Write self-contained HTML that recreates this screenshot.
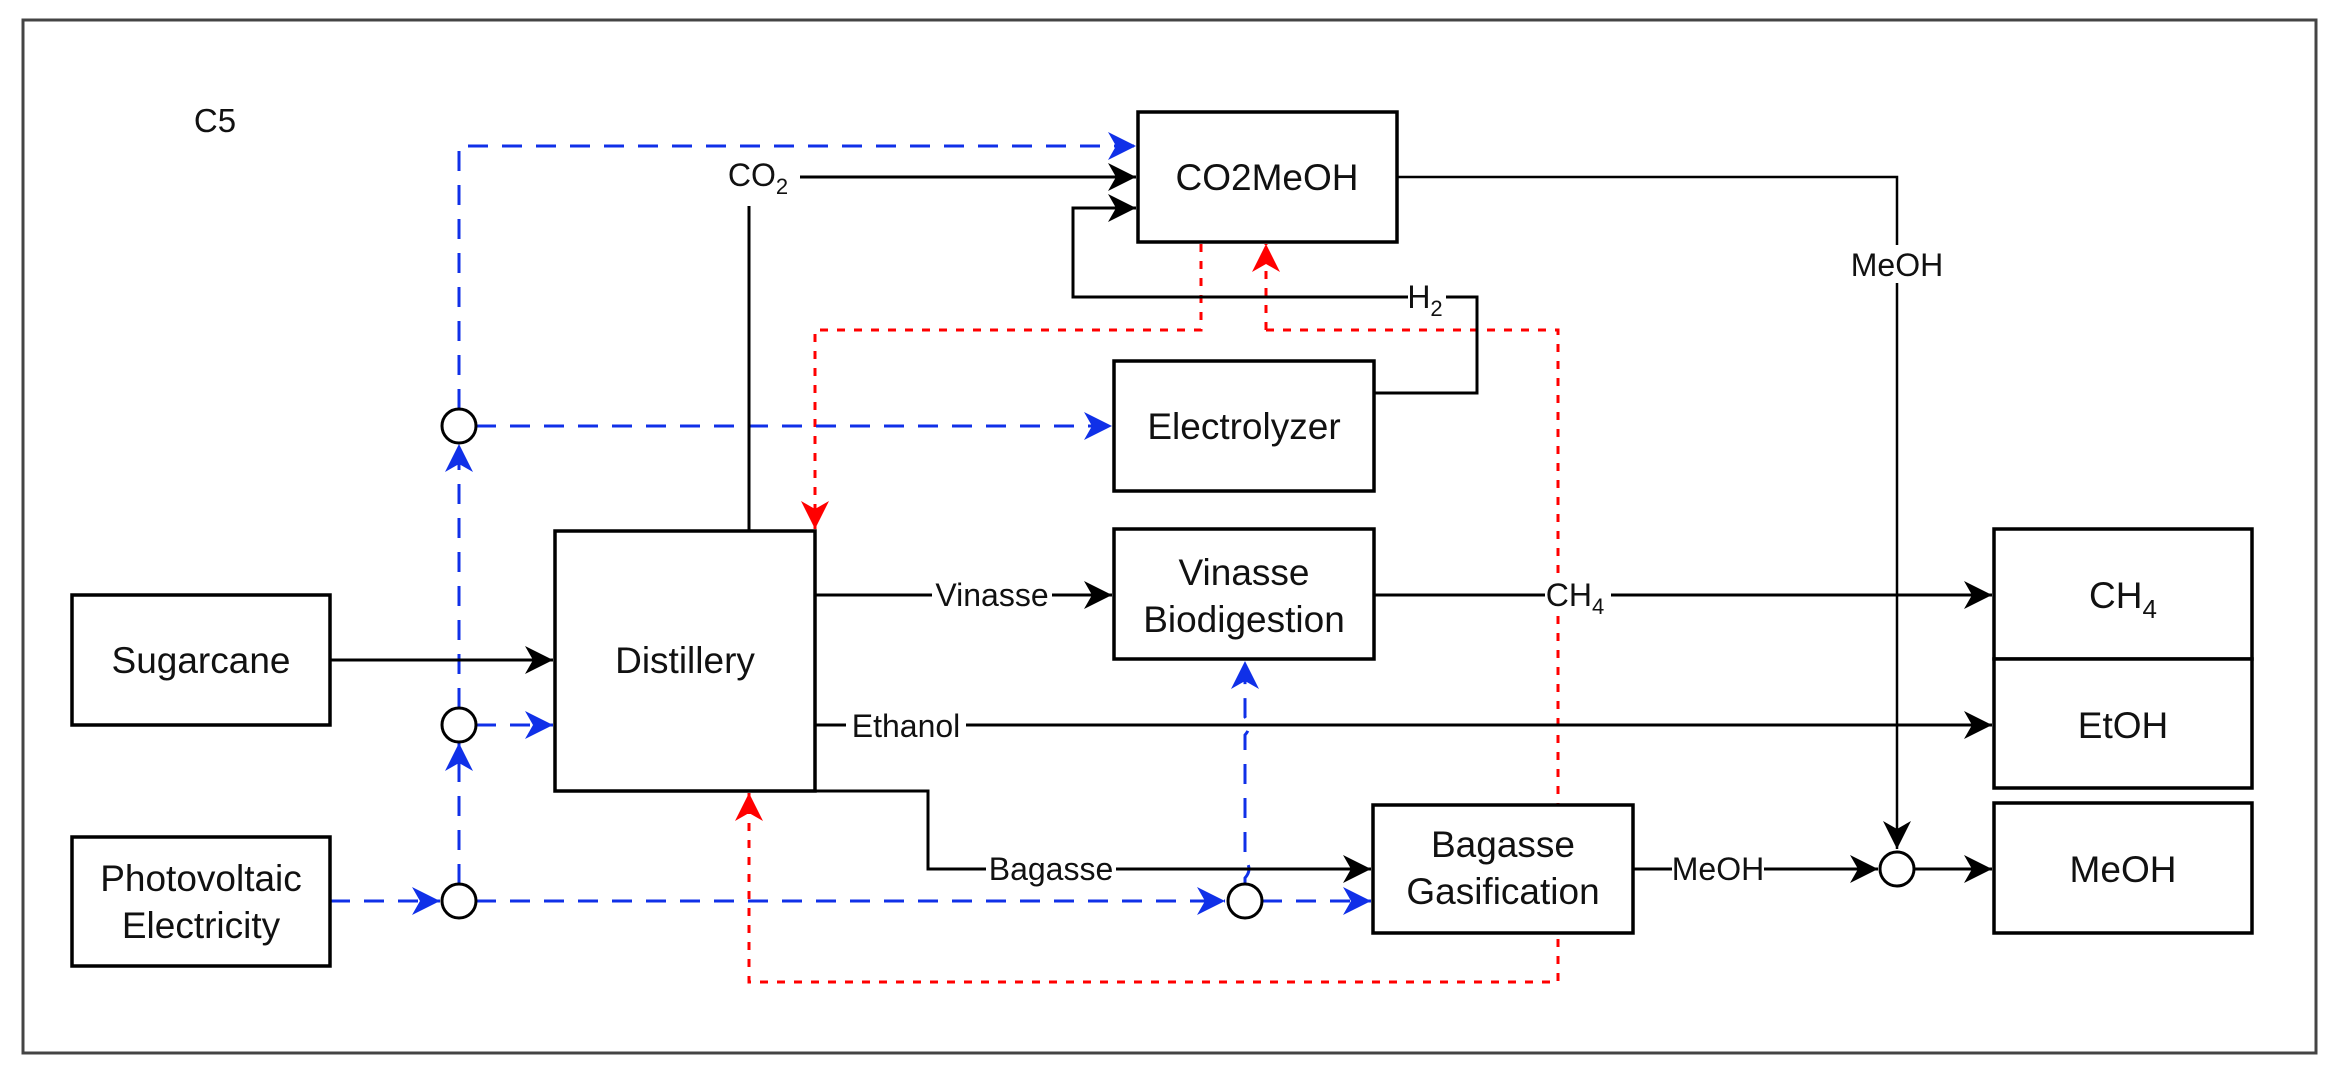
<!DOCTYPE html>
<html><head><meta charset="utf-8"><style>
html,body{margin:0;padding:0;background:#fff;}
svg{display:block;}
text{font-family:"Liberation Sans",Arial,sans-serif;fill:#111;}
</style></head><body>
<svg width="2338" height="1078" viewBox="0 0 2338 1078" xmlns="http://www.w3.org/2000/svg">
<defs>
<marker id="ak" markerWidth="34" markerHeight="34" refX="28" refY="14" orient="auto" markerUnits="userSpaceOnUse">
<path d="M0,0 L28,14 L0,28 L8,14 z" fill="#000"/></marker>
<marker id="ab" markerWidth="34" markerHeight="34" refX="28" refY="14" orient="auto" markerUnits="userSpaceOnUse">
<path d="M0,0 L28,14 L0,28 L8,14 z" fill="#1030e8"/></marker>
<marker id="ar" markerWidth="34" markerHeight="34" refX="28" refY="14" orient="auto" markerUnits="userSpaceOnUse">
<path d="M0,0 L28,14 L0,28 L8,14 z" fill="#ff0000"/></marker>
</defs>
<rect x="23" y="20" width="2293" height="1033" fill="none" stroke="#444" stroke-width="3"/>
<text x="215" y="132" font-size="33" text-anchor="middle">C5</text>

<g fill="none" stroke="#ff0000" stroke-width="3" stroke-dasharray="8,9">
<path d="M1201,244 V330 H815 V529" marker-end="url(#ar)"/>
<path d="M1266,330 V244" marker-end="url(#ar)"/>
<path d="M1266,330 H1558 V982 H749 V793" marker-end="url(#ar)"/>
</g>

<g fill="none" stroke="#1030e8" stroke-width="3" stroke-dasharray="20,14">
<path d="M330,901 H440" marker-end="url(#ab)"/>
<path d="M459,884 V743" marker-end="url(#ab)"/>
<path d="M459,708 V444" marker-end="url(#ab)"/>
<path d="M459,409 V146 H1136" marker-end="url(#ab)"/>
<path d="M476,426 H1112" marker-end="url(#ab)"/>
<path d="M476,725 H553" marker-end="url(#ab)"/>
<path d="M476,901 H1225" marker-end="url(#ab)"/>
<path d="M1262,901 H1371" marker-end="url(#ab)"/>
<path d="M1245,884 V878 q8,-9 0,-18 V735 q8,-9 0,-18 V661" marker-end="url(#ab)"/>
</g>

<g fill="none" stroke="#000" stroke-width="3">
<path d="M330,660 H553" marker-end="url(#ak)"/>
<path d="M749,531 V206"/>
<path d="M800,177 H1136" marker-end="url(#ak)"/>
<path d="M1374,393 H1477 V297 H1073 V208 H1136" marker-end="url(#ak)"/>
<path d="M815,595 H1112" marker-end="url(#ak)"/>
<path d="M1374,595 H1992" marker-end="url(#ak)"/>
<path d="M815,725 H1992" marker-end="url(#ak)"/>
<path d="M815,791 H928 V869 H1371" marker-end="url(#ak)"/>
<path d="M1397,177 H1897 V849" stroke-width="2.5" marker-end="url(#ak)"/>
<path d="M1633,869 H1878" marker-end="url(#ak)"/>
<path d="M1914,869 H1992" marker-end="url(#ak)"/>
</g>

<g fill="#fff" stroke="#000" stroke-width="3">
<circle cx="459" cy="426" r="17"/>
<circle cx="459" cy="725" r="17"/>
<circle cx="459" cy="901" r="17"/>
<circle cx="1245" cy="901" r="17"/>
<circle cx="1897" cy="869" r="17"/>
</g>

<g fill="#fff" stroke="#000" stroke-width="3.5">
<rect x="72" y="595" width="258" height="130"/>
<rect x="72" y="837" width="258" height="129"/>
<rect x="555" y="531" width="260" height="260"/>
<rect x="1138" y="112" width="259" height="130"/>
<rect x="1114" y="361" width="260" height="130"/>
<rect x="1114" y="529" width="260" height="130"/>
<rect x="1373" y="805" width="260" height="128"/>
<rect x="1994" y="529" width="258" height="130"/>
<rect x="1994" y="659" width="258" height="129"/>
<rect x="1994" y="803" width="258" height="130"/>
</g>

<g font-size="37" text-anchor="middle">
<text x="201" y="673">Sugarcane</text>
<text x="201" y="891">Photovoltaic</text>
<text x="201" y="938">Electricity</text>
<text x="685" y="673">Distillery</text>
<text x="1267" y="190">CO2MeOH</text>
<text x="1244" y="439">Electrolyzer</text>
<text x="1244" y="585">Vinasse</text>
<text x="1244" y="632">Biodigestion</text>
<text x="1503" y="857">Bagasse</text>
<text x="1503" y="904">Gasification</text>
<text x="2123" y="608">CH<tspan font-size="26" dy="10">4</tspan></text>
<text x="2123" y="738">EtOH</text>
<text x="2123" y="882">MeOH</text>
</g>

<g font-size="32" text-anchor="middle">
<rect x="725" y="150" width="75" height="40" fill="#fff"/>
<text x="758" y="186">CO<tspan font-size="22" dy="8">2</tspan></text>
<rect x="1408" y="278" width="38" height="38" fill="#fff"/>
<text x="1425" y="308">H<tspan font-size="22" dy="8">2</tspan></text>
<rect x="1851" y="245" width="92" height="38" fill="#fff"/>
<text x="1897" y="276">MeOH</text>
<rect x="932" y="578" width="120" height="36" fill="#fff"/>
<text x="992" y="606">Vinasse</text>
<rect x="1545" y="578" width="66" height="38" fill="#fff"/>
<text x="1575" y="606">CH<tspan font-size="22" dy="8">4</tspan></text>
<rect x="846" y="708" width="120" height="36" fill="#fff"/>
<text x="906" y="737">Ethanol</text>
<rect x="986" y="852" width="130" height="36" fill="#fff"/>
<text x="1051" y="880">Bagasse</text>
<rect x="1672" y="852" width="92" height="36" fill="#fff"/>
<text x="1718" y="880">MeOH</text>
</g>
</svg>
</body></html>
